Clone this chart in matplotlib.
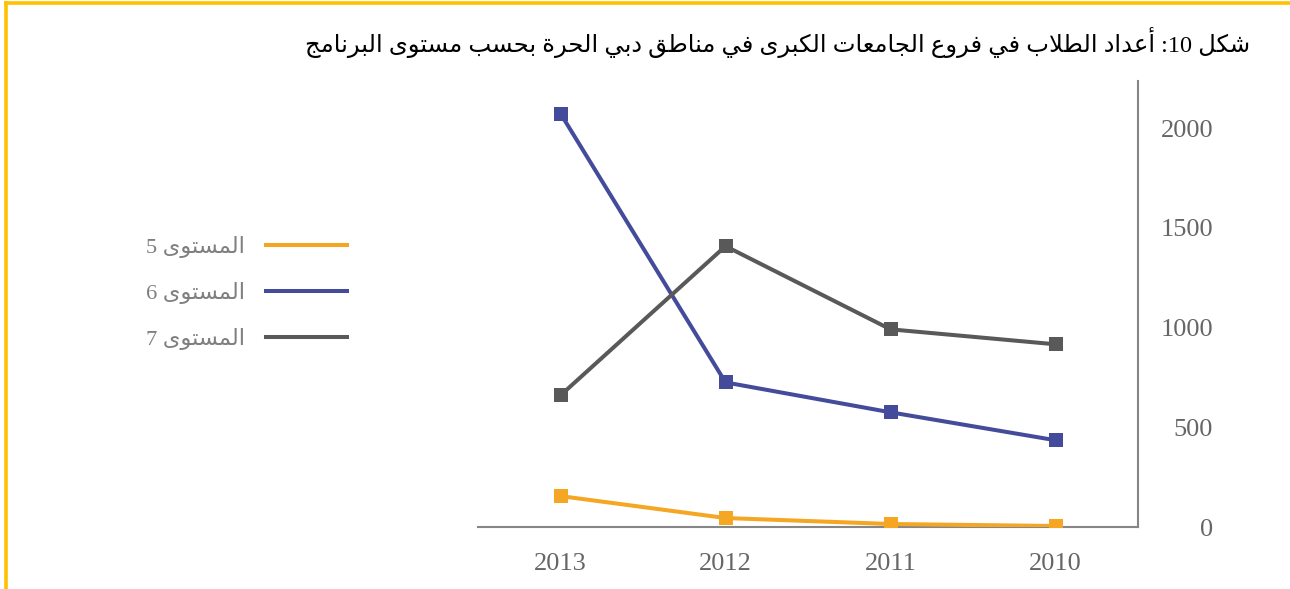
import re
import matplotlib
matplotlib.use("Agg")
import matplotlib.pyplot as plt
from matplotlib.lines import Line2D

# ---------------- data ----------------
years = ["2013", "2012", "2011", "2010"]
level5 = [155, 45, 15, 5]
level6 = [2073, 725, 575, 435]
level7 = [660, 1408, 991, 916]
series_labels = ["المستوى 5", "المستوى 6", "المستوى 7"]
yticks = [0, 500, 1000, 1500, 2000]
title = "شكل 10: أعداد الطلاب في فروع الجامعات الكبرى في مناطق دبي الحرة بحسب مستوى البرنامج"

colors = ["#F5A623", "#454B9B", "#595959"]

# ------------- minimal Arabic shaping (presentation forms) -------------
FORMS = {
    '\u0627': ('\uFE8D', '\uFE8E', None, None),
    '\u0623': ('\uFE83', '\uFE84', None, None),
    '\u0625': ('\uFE87', '\uFE88', None, None),
    '\u0622': ('\uFE81', '\uFE82', None, None),
    '\u0628': ('\uFE8F', '\uFE90', '\uFE91', '\uFE92'),
    '\u0629': ('\uFE93', '\uFE94', None, None),
    '\u062A': ('\uFE95', '\uFE96', '\uFE97', '\uFE98'),
    '\u062B': ('\uFE99', '\uFE9A', '\uFE9B', '\uFE9C'),
    '\u062C': ('\uFE9D', '\uFE9E', '\uFE9F', '\uFEA0'),
    '\u062D': ('\uFEA1', '\uFEA2', '\uFEA3', '\uFEA4'),
    '\u062E': ('\uFEA5', '\uFEA6', '\uFEA7', '\uFEA8'),
    '\u062F': ('\uFEA9', '\uFEAA', None, None),
    '\u0630': ('\uFEAB', '\uFEAC', None, None),
    '\u0631': ('\uFEAD', '\uFEAE', None, None),
    '\u0632': ('\uFEAF', '\uFEB0', None, None),
    '\u0633': ('\uFEB1', '\uFEB2', '\uFEB3', '\uFEB4'),
    '\u0634': ('\uFEB5', '\uFEB6', '\uFEB7', '\uFEB8'),
    '\u0635': ('\uFEB9', '\uFEBA', '\uFEBB', '\uFEBC'),
    '\u0636': ('\uFEBD', '\uFEBE', '\uFEBF', '\uFEC0'),
    '\u0637': ('\uFEC1', '\uFEC2', '\uFEC3', '\uFEC4'),
    '\u0638': ('\uFEC5', '\uFEC6', '\uFEC7', '\uFEC8'),
    '\u0639': ('\uFEC9', '\uFECA', '\uFECB', '\uFECC'),
    '\u063A': ('\uFECD', '\uFECE', '\uFECF', '\uFED0'),
    '\u0641': ('\uFED1', '\uFED2', '\uFED3', '\uFED4'),
    '\u0642': ('\uFED5', '\uFED6', '\uFED7', '\uFED8'),
    '\u0643': ('\uFED9', '\uFEDA', '\uFEDB', '\uFEDC'),
    '\u0644': ('\uFEDD', '\uFEDE', '\uFEDF', '\uFEE0'),
    '\u0645': ('\uFEE1', '\uFEE2', '\uFEE3', '\uFEE4'),
    '\u0646': ('\uFEE5', '\uFEE6', '\uFEE7', '\uFEE8'),
    '\u0647': ('\uFEE9', '\uFEEA', '\uFEEB', '\uFEEC'),
    '\u0648': ('\uFEED', '\uFEEE', None, None),
    '\u0649': ('\uFEEF', '\uFEF0', None, None),
    '\u064A': ('\uFEF1', '\uFEF2', '\uFEF3', '\uFEF4'),
}
LAM_ALEF = {'\u0627': ('\uFEFB', '\uFEFC'), '\u0623': ('\uFEF7', '\uFEF8'),
            '\u0625': ('\uFEF9', '\uFEFA'), '\u0622': ('\uFEF5', '\uFEF6')}


def _dual(c):
    return c in FORMS and FORMS[c][2] is not None


def shape(text):
    out = []
    i, n = 0, len(text)
    while i < n:
        c = text[i]
        if c not in FORMS:
            out.append(c)
            i += 1
            continue
        jp = i > 0 and _dual(text[i - 1])
        if c == '\u0644' and i + 1 < n and text[i + 1] in LAM_ALEF:
            out.append(LAM_ALEF[text[i + 1]][1 if jp else 0])
            i += 2
            continue
        jn = _dual(c) and i + 1 < n and text[i + 1] in FORMS
        iso, fin, ini, med = FORMS[c]
        if jp and jn:
            out.append(med)
        elif jp:
            out.append(fin)
        elif jn:
            out.append(ini)
        else:
            out.append(iso)
        i += 1
    return ''.join(out)


def visual(text):
    tokens = re.findall(r'[0-9]+|[^0-9]', shape(text))
    return ''.join(reversed(tokens))


# ---------------- figure ----------------
W, H = 1290, 589
fig = plt.figure(figsize=(W / 100, H / 100), dpi=100)
fig.patch.set_facecolor("white")

ax = fig.add_axes([478 / W, 1 - 527 / H, (1138 - 478) / W, (527 - 81) / H])
x = list(range(len(years)))
for vals, col in zip([level5, level6, level7], colors):
    ax.plot(x, vals, color=col, lw=2.9, marker="s", markersize=9.5,
            markeredgewidth=0, solid_joinstyle="miter", zorder=3)

ax.set_xlim(-0.5, len(years) - 0.5)
ax.set_ylim(0, 2236)
ax.set_xticks(x)
ax.set_xticklabels(years)
ax.set_yticks(yticks)
ax.set_yticklabels([str(v) for v in yticks])
ax.yaxis.tick_right()
for s in ["left", "top"]:
    ax.spines[s].set_visible(False)
for s in ["right", "bottom"]:
    ax.spines[s].set_color("#868686")
    ax.spines[s].set_linewidth(1.5)
ax.tick_params(axis="both", length=0, labelcolor="#666666", labelsize=19)
ax.tick_params(axis="y", pad=54)
ax.tick_params(axis="x", pad=19)
for lab in ax.get_yticklabels():
    lab.set_horizontalalignment("right")
    lab.set_fontfamily("Liberation Serif")
for lab in ax.get_xticklabels():
    lab.set_fontfamily("Liberation Serif")

# legend
handles = [Line2D([], [], color=c, lw=2.9) for c in colors]
leg = fig.legend(handles, [visual(s) for s in series_labels],
                 loc="center right", bbox_to_anchor=(347 / W, 1 - 293 / H),
                 frameon=False, markerfirst=False, borderpad=0, borderaxespad=0,
                 handlelength=3.6, handletextpad=0.95, labelspacing=1.08,
                 prop={"family": ["Liberation Serif", "DejaVu Sans"], "size": 16.2})
for t in leg.get_texts():
    t.set_color("#7f7f7f")

# title
fig.text(1250 / W, 1 - 42 / H, visual(title), ha="right", va="center",
         fontsize=17.5, color="black",
         family=["Liberation Serif", "DejaVu Sans"])

# frame (yellow border on top and left)
fig.add_artist(Line2D([6 / W, 1], [1 - 3 / H, 1 - 3 / H], color="#FFC000", lw=2.6,
                      transform=fig.transFigure))
fig.add_artist(Line2D([6 / W, 6 / W], [0, 1 - 3 / H], color="#FFC000", lw=2.6,
                      transform=fig.transFigure))

fig.savefig("out.png", dpi=100, facecolor="white")
